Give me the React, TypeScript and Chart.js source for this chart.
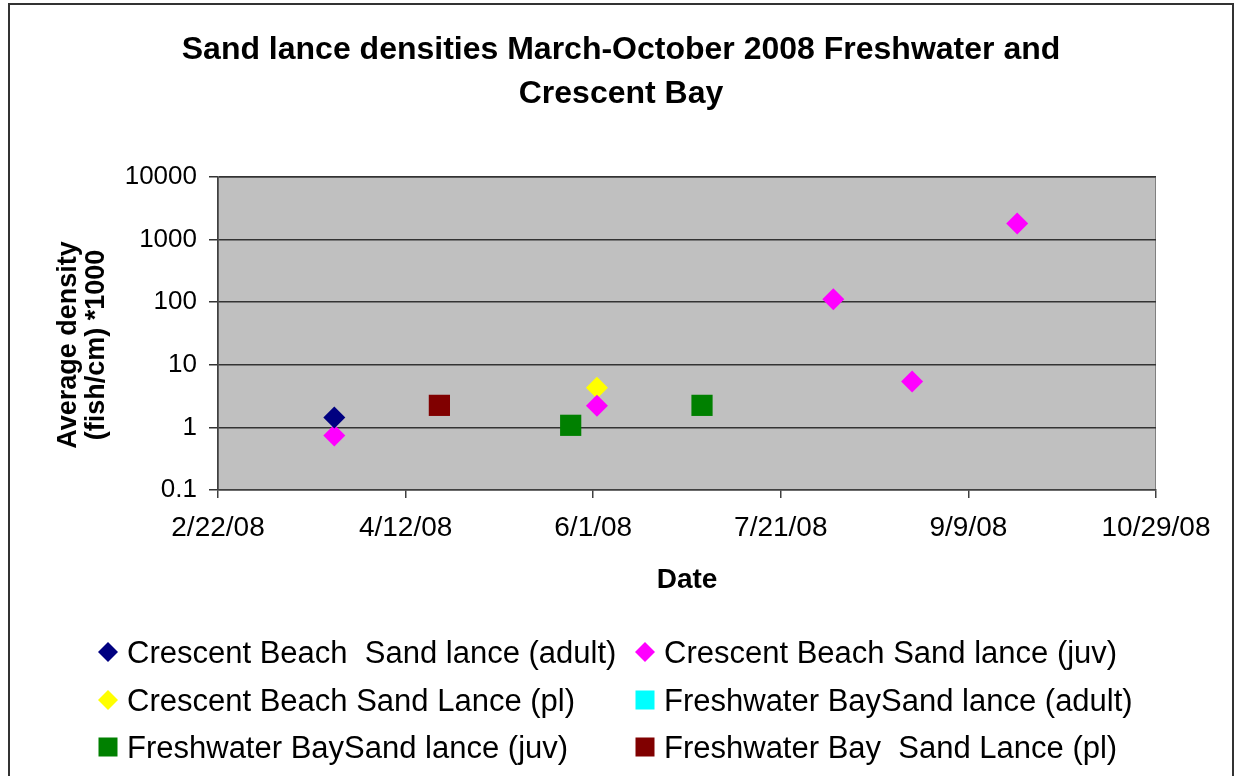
import React, { useEffect, useRef } from "react";
import { Chart, registerables } from "chart.js";

Chart.register(...registerables);

// ---- Data ----
const startDate = "2008-02-22";
const xTickLabels = ["2/22/08", "4/12/08", "6/1/08", "7/21/08", "9/9/08", "10/29/08"];
const yTickValues = [0.1, 1, 10, 100, 1000, 10000];

const cbAdultDates = ["2008-03-24"];
const cbAdultValues = [1.44];

const cbJuvDates = ["2008-03-24", "2008-06-02", "2008-08-04", "2008-08-25", "2008-09-22"];
const cbJuvValues = [0.74, 2.22, 111, 5.4, 1815];

const cbPlDates = ["2008-06-02"];
const cbPlValues = [4.3];

const fwAdultDates: string[] = [];
const fwAdultValues: number[] = [];

const fwJuvDates = ["2008-05-26", "2008-06-30"];
const fwJuvValues = [1.08, 2.25];

const fwPlDates = ["2008-04-21"];
const fwPlValues = [2.25];

const seriesNames = [
  "Crescent Beach  Sand lance (adult)",
  "Crescent Beach Sand lance (juv)",
  "Crescent Beach Sand Lance (pl)",
  "Freshwater BaySand lance (adult)",
  "Freshwater BaySand lance (juv)",
  "Freshwater Bay  Sand Lance (pl)",
];
const seriesColors = ["#000080", "#FF00FF", "#FFFF00", "#00FFFF", "#008000", "#800000"];
const seriesShapes = ["diamond", "diamond", "diamond", "square", "square", "square"];

const titleLines = ["Sand lance densities March-October 2008 Freshwater and", "Crescent Bay"];
const yTitleLines = ["Average density", "(fish/cm) *1000"];
const xTitle = "Date";

const FONT = '"Liberation Sans", Arial, sans-serif';

function dayOffset(d: string): number {
  const [y, m, dd] = d.split("-").map(Number);
  const [y0, m0, d0] = startDate.split("-").map(Number);
  return Math.round((Date.UTC(y, m - 1, dd) - Date.UTC(y0, m0 - 1, d0)) / 86400000);
}

function toPoints(dates: string[], values: number[]) {
  return dates.map((d, i) => ({ x: dayOffset(d), y: values[i] }));
}

const decorPlugin = {
  id: "decor",
  beforeDraw(chart: any) {
    const { ctx, chartArea } = chart;
    ctx.save();
    ctx.fillStyle = "#FFFFFF";
    ctx.fillRect(0, 0, chart.width, chart.height);
    ctx.fillStyle = "#C0C0C0";
    ctx.fillRect(chartArea.left, chartArea.top, chartArea.right - chartArea.left, chartArea.bottom - chartArea.top);
    ctx.strokeStyle = "#808080";
    ctx.lineWidth = 1;
    ctx.strokeRect(chartArea.left + 0.5, chartArea.top + 0.5, chartArea.right - chartArea.left - 1, chartArea.bottom - chartArea.top - 1);
    ctx.restore();
  },
  afterDraw(chart: any) {
    const { ctx, chartArea } = chart;
    ctx.save();
    // outer border
    ctx.strokeStyle = "#333333";
    ctx.lineWidth = 2;
    ctx.strokeRect(9, 4, 1224, 800);

    // title
    ctx.fillStyle = "#000";
    ctx.textAlign = "center";
    ctx.textBaseline = "alphabetic";
    ctx.font = `bold 32px ${FONT}`;
    ctx.fillText(titleLines[0], 621, 59);
    ctx.fillText(titleLines[1], 621, 103);

    // y title
    ctx.font = `bold 27px ${FONT}`;
    ctx.save();
    ctx.translate(76, 345);
    ctx.rotate(-Math.PI / 2);
    ctx.fillText(yTitleLines[0], 0, 0);
    ctx.restore();
    ctx.save();
    ctx.translate(104, 345);
    ctx.rotate(-Math.PI / 2);
    ctx.fillText(yTitleLines[1], 0, 0);
    ctx.restore();

    // x title
    ctx.font = `bold 28px ${FONT}`;
    ctx.fillText(xTitle, (chartArea.left + chartArea.right) / 2, 588);

    // legend
    const cols = [108, 645];
    const rows = [652, 700, 747];
    ctx.font = `31px ${FONT}`;
    ctx.textAlign = "left";
    ctx.textBaseline = "middle";
    seriesNames.forEach((name, i) => {
      const cx = cols[i % 2];
      const cy = rows[Math.floor(i / 2)];
      ctx.fillStyle = seriesColors[i];
      if (seriesShapes[i] === "diamond") {
        const r = 10;
        ctx.beginPath();
        ctx.moveTo(cx, cy - r);
        ctx.lineTo(cx + r, cy);
        ctx.lineTo(cx, cy + r);
        ctx.lineTo(cx - r, cy);
        ctx.closePath();
        ctx.fill();
      } else {
        ctx.fillRect(cx - 9.5, cy - 9.5, 19, 19);
      }
      ctx.fillStyle = "#000";
      ctx.fillText(name, cx + 19, cy + 2);
    });
    ctx.restore();
  },
};

export default function App() {
  const canvasRef = useRef<HTMLCanvasElement | null>(null);

  useEffect(() => {
    const canvas = canvasRef.current;
    if (!canvas) return;
    const allData = [
      toPoints(cbAdultDates, cbAdultValues),
      toPoints(cbJuvDates, cbJuvValues),
      toPoints(cbPlDates, cbPlValues),
      toPoints(fwAdultDates, fwAdultValues),
      toPoints(fwJuvDates, fwJuvValues),
      toPoints(fwPlDates, fwPlValues),
    ];
    const chart = new Chart(canvas, {
      type: "scatter",
      data: {
        datasets: allData.map((data, i) => ({
          label: seriesNames[i],
          data,
          backgroundColor: seriesColors[i],
          borderColor: seriesColors[i],
          borderWidth: 0,
          pointStyle: seriesShapes[i] === "diamond" ? "rectRot" : "rect",
          pointRadius: seriesShapes[i] === "diamond" ? 11 : 15,
          pointHoverRadius: seriesShapes[i] === "diamond" ? 11 : 15,
          showLine: false,
        })),
      },
      options: {
        responsive: false,
        animation: false,
        devicePixelRatio: 1,
        layout: { padding: { left: 0, right: 79, top: 177, bottom: 0 } },
        plugins: {
          legend: { display: false },
          title: { display: false },
          tooltip: { enabled: false },
        },
        scales: {
          x: {
            type: "linear",
            min: 0,
            max: 250,
            afterFit(scale: any) {
              scale.height = 286;
            },
            ticks: {
              stepSize: 50,
              color: "#000",
              font: { family: FONT, size: 28 },
              padding: 13,
              maxRotation: 0,
              callback: (v: any) => xTickLabels[Math.round(Number(v) / 50)] ?? "",
            },
            grid: {
              drawOnChartArea: false,
              drawTicks: true,
              tickLength: 8,
              color: "#404040",
              tickColor: "#404040",
              lineWidth: 1.5,
            },
            border: { display: true, color: "#404040", width: 1.5 },
          },
          y: {
            type: "logarithmic",
            min: 0.1,
            max: 10000,
            afterFit(scale: any) {
              scale.width = 218;
            },
            afterBuildTicks(scale: any) {
              scale.ticks = yTickValues.map((v) => ({ value: v }));
            },
            ticks: {
              color: "#000",
              font: { family: FONT, size: 26 },
              padding: 12,
              autoSkip: false,
              callback: (v: any) => String(v),
            },
            grid: {
              drawOnChartArea: true,
              drawTicks: true,
              tickLength: 9,
              color: "#333333",
              tickColor: "#333333",
              lineWidth: 1.5,
            },
            border: { display: true, color: "#404040", width: 1.5 },
          },
        },
      },
      plugins: [decorPlugin],
    } as any);
    return () => chart.destroy();
  }, []);

  return (
    <div style={{ position: "absolute", left: 0, top: 0, width: 1235, height: 776, overflow: "hidden" }}>
      <canvas ref={canvasRef} width={1235} height={776} style={{ display: "block" }} />
    </div>
  );
}
